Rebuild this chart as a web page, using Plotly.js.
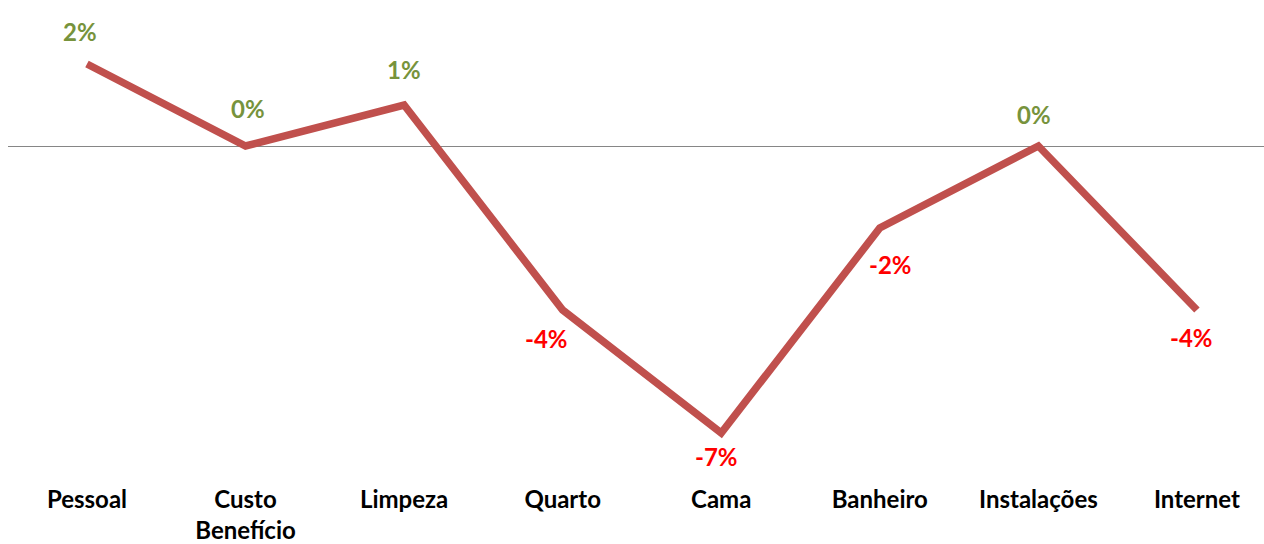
<!DOCTYPE html>
<html>
<head>
<meta charset="utf-8">
<script src="https://cdn.plot.ly/plotly-3.0.1.min.js"></script>
<style>html,body{margin:0;padding:0;background:#fff;}#chart{width:1264px;height:544px;}</style>
</head>
<body>
<div id="chart"></div>
<script>
const categories = ["Pessoal", "Custo<br>Benefício", "Limpeza", "Quarto", "Cama", "Banheiro", "Instalações", "Internet"];
const values = [2, 0, 1, -4, -7, -2, 0, -4];
const labels = ["2%", "0%", "1%", "-4%", "-7%", "-2%", "0%", "-4%"];

// label placement offsets in pixels (style only)
const labelDx = [-7, 2, 0, -16, -5, 11, -4, -5];
const labelDy = [33, 38, 36, -28, -23, -36, 32, -27];

const posColor = "#77933C";
const negColor = "#FF0000";
const fontFam = "Lato, 'Open Sans', sans-serif";

const annotations = categories.map((c, i) => ({
  x: c, y: values[i], xref: "x", yref: "y",
  text: "<b>" + labels[i] + "</b>",
  showarrow: false,
  xanchor: "center", yanchor: "middle",
  yshift: labelDy[i],
  xshift: labelDx[i],
  font: {family: fontFam, size: 24, color: values[i] < 0 ? negColor : posColor}
}));

const trace = {
  x: categories, y: values, type: "scatter", mode: "lines",
  line: {color: "#C0504D", width: 7.5, shape: "linear"},
  hoverinfo: "none"
};

const layout = {
  width: 1264, height: 544,
  margin: {l: 8, r: 0, t: 0, b: 64},
  paper_bgcolor: "#fff", plot_bgcolor: "#fff",
  showlegend: false,
  xaxis: {
    type: "category", range: [-0.498, 7.423],
    showgrid: false, zeroline: false, showline: false, ticks: "",
    ticklabelstandoff: 3,
    tickfont: {family: fontFam, size: 24, color: "#000", weight: "bold"},
    fixedrange: true
  },
  yaxis: {
    range: [-8.146, 3.561],
    showgrid: false, showticklabels: false, ticks: "",
    zeroline: true, zerolinecolor: "#868686", zerolinewidth: 1,
    showline: false, fixedrange: true
  },
  annotations: annotations
};

Plotly.newPlot("chart", [trace], layout, {staticPlot: true, displayModeBar: false});
</script>
</body>
</html>
